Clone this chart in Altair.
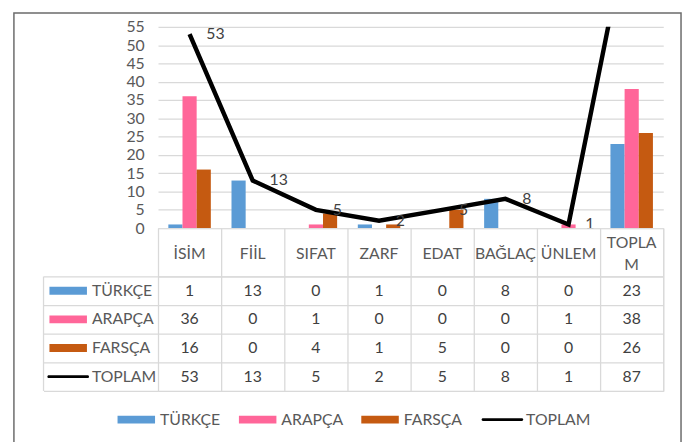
import altair as alt
import pandas as pd

categories = ["İSİM", "FİİL", "SIFAT", "ZARF", "EDAT", "BAĞLAÇ", "ÜNLEM", "TOPLAM"]
series_names = ["TÜRKÇE", "ARAPÇA", "FARSÇA", "TOPLAM"]
turkce = [1, 13, 0, 1, 0, 8, 0, 23]
arapca = [36, 0, 1, 0, 0, 0, 1, 38]
farsca = [16, 0, 4, 1, 5, 0, 0, 26]
toplam = [53, 13, 5, 2, 5, 8, 1, 87]
colors = ["#5B9BD5", "#FF6699", "#C55A11", "#000000"]
y_ticks = [0, 5, 10, 15, 20, 25, 30, 35, 40, 45, 50, 55]

W = 512
FONT = "Lato"
FS = 16
TEXT = "#595959"
VAL = "#404040"
GRID = "#D9D9D9"

rows = []
for s, vals in zip(series_names, [turkce, arapca, farsca, toplam]):
    for c, v in zip(categories, vals):
        rows.append({"cat": c, "series": s, "value": v})
long = pd.DataFrame(rows)
bars_df = long[long.series != "TOPLAM"]
line_df = long[long.series == "TOPLAM"]
series_df = pd.DataFrame({"series": series_names})
one = pd.DataFrame({"a": [0]})

cat_scale = alt.Scale(domain=categories, paddingInner=0, paddingOuter=0)

# ---- top plot ----
xband = alt.X("cat:N", sort=categories, scale=cat_scale, axis=None)
y_axis = alt.Axis(values=y_ticks, tickCount=12, domain=False, ticks=False, labelFontSize=FS,
                  labelFont=FONT, labelColor=TEXT, labelPadding=14, labelOverlap=False,
                  gridColor=GRID, gridWidth=1.3, title=None)
y_scale = alt.Scale(domain=[0, 55], nice=False)
yval = alt.Y("value:Q", scale=y_scale, axis=y_axis)

bars = alt.Chart(bars_df).mark_bar().encode(
    x=xband,
    xOffset=alt.XOffset("series:N", sort=series_names[:3],
                        scale=alt.Scale(domain=series_names[:3], paddingInner=0, paddingOuter=0.73)),
    y=yval,
    color=alt.Color("series:N", scale=alt.Scale(domain=series_names[:3], range=colors[:3]), legend=None),
)

line = alt.Chart(line_df).mark_line(color="black", strokeWidth=4.5, clip=True).encode(
    x=xband, y=yval
)
labels = alt.Chart(line_df).transform_filter("datum.value <= 55").mark_text(
    align="left", baseline="middle", dx=17, fontSize=FS, font=FONT, color=VAL
).encode(x=xband, y=yval, text="value:Q")
frame = alt.Chart(one).mark_rect(fillOpacity=0, stroke="#6b6b6b", strokeWidth=1.5).encode(
    x=alt.value(-146), x2=alt.value(530), y=alt.value(-14), y2=alt.value(440)
)

top = alt.layer(frame, bars, line, labels).properties(
    width=W, height=204, view=alt.ViewBackground(stroke="transparent")
)

# ---- header row ----
hx = alt.X("cat:N", sort=categories, scale=cat_scale,
           axis=alt.Axis(grid=True, tickBand="extent", gridColor=GRID, gridWidth=1.3,
                         labels=False, ticks=False, domain=False, title=None))
head_base = alt.Chart(pd.DataFrame({"cat": categories}))
head_single = head_base.transform_filter("datum.cat != 'TOPLAM'").mark_text(
    fontSize=FS, font=FONT, color=TEXT, baseline="middle", dy=2
).encode(x=hx, text="cat:N")
head_multi = head_base.transform_filter("datum.cat == 'TOPLAM'").transform_calculate(
    label="['TOPLA', 'M']"
).mark_text(fontSize=FS, font=FONT, color=TEXT, baseline="middle", lineHeight=22, dy=-9).encode(
    x=hx, text="label:N"
)
header = alt.layer(head_single, head_multi).properties(width=W, height=49)

# ---- data table ----
xcell = alt.X("cat:N", sort=categories, scale=cat_scale,
              axis=alt.Axis(grid=True, tickBand="extent", gridColor=GRID, gridWidth=1.3,
                            labels=False, ticks=False, domain=False, title=None))
ycell = alt.Y("series:N", sort=series_names,
              scale=alt.Scale(domain=series_names, paddingInner=0, paddingOuter=0),
              axis=alt.Axis(grid=True, tickBand="extent", gridColor=GRID, gridWidth=1.3,
                            ticks=True, tickSize=116, tickColor=GRID, tickWidth=1.3,
                            labels=False, domain=False, title=None))

cells = alt.Chart(long).mark_text(fontSize=FS, font=FONT, color=VAL, baseline="middle").encode(
    x=xcell, y=ycell, text="value:Q"
)
names = alt.Chart(series_df).mark_text(align="left", baseline="middle", fontSize=FS,
                                       font=FONT, color=TEXT).encode(
    x=alt.value(-67), y=ycell, text="series:N"
)

RECT = "M-1,-0.21H1V0.21H-1Z"
LINE = "M-1.04,-0.07H1.04A0.07,0.07 0 0 1 1.04,0.07H-1.04A0.07,0.07 0 0 1 -1.04,-0.07Z"
leg = alt.Legend(orient="none", legendX=-41, legendY=126, direction="horizontal", title=None,
                 symbolSize=1444, symbolStrokeWidth=0, labelFontSize=FS, labelFont=FONT,
                 labelColor=TEXT, labelOffset=5, columnPadding=18)
swatches = alt.Chart(series_df).mark_point(filled=True, size=1444, opacity=1, strokeWidth=0).encode(
    x=alt.value(-91),
    y=ycell,
    color=alt.Color("series:N", sort=series_names,
                    scale=alt.Scale(domain=series_names, range=colors), legend=leg),
    shape=alt.Shape("series:N", sort=series_names,
                    scale=alt.Scale(domain=series_names, range=[RECT, RECT, RECT, LINE]), legend=leg),
)
left_border = alt.Chart(one).mark_rule(color=GRID, strokeWidth=1.3).encode(
    x=alt.value(-116), y=alt.value(0), y2=alt.value(116)
)

table = alt.layer(left_border, cells, names, swatches).properties(width=W, height=116)

chart = alt.vconcat(top, header, table, spacing=0, bounds="flush").resolve_scale(
    color="independent", shape="independent"
).properties(
    padding={"left": 4, "top": 0, "right": 0, "bottom": 0}
).configure_view(stroke=GRID, strokeWidth=1.3).configure(background="white")

chart.save("out.html", embed_options={"renderer": "svg", "actions": False})
